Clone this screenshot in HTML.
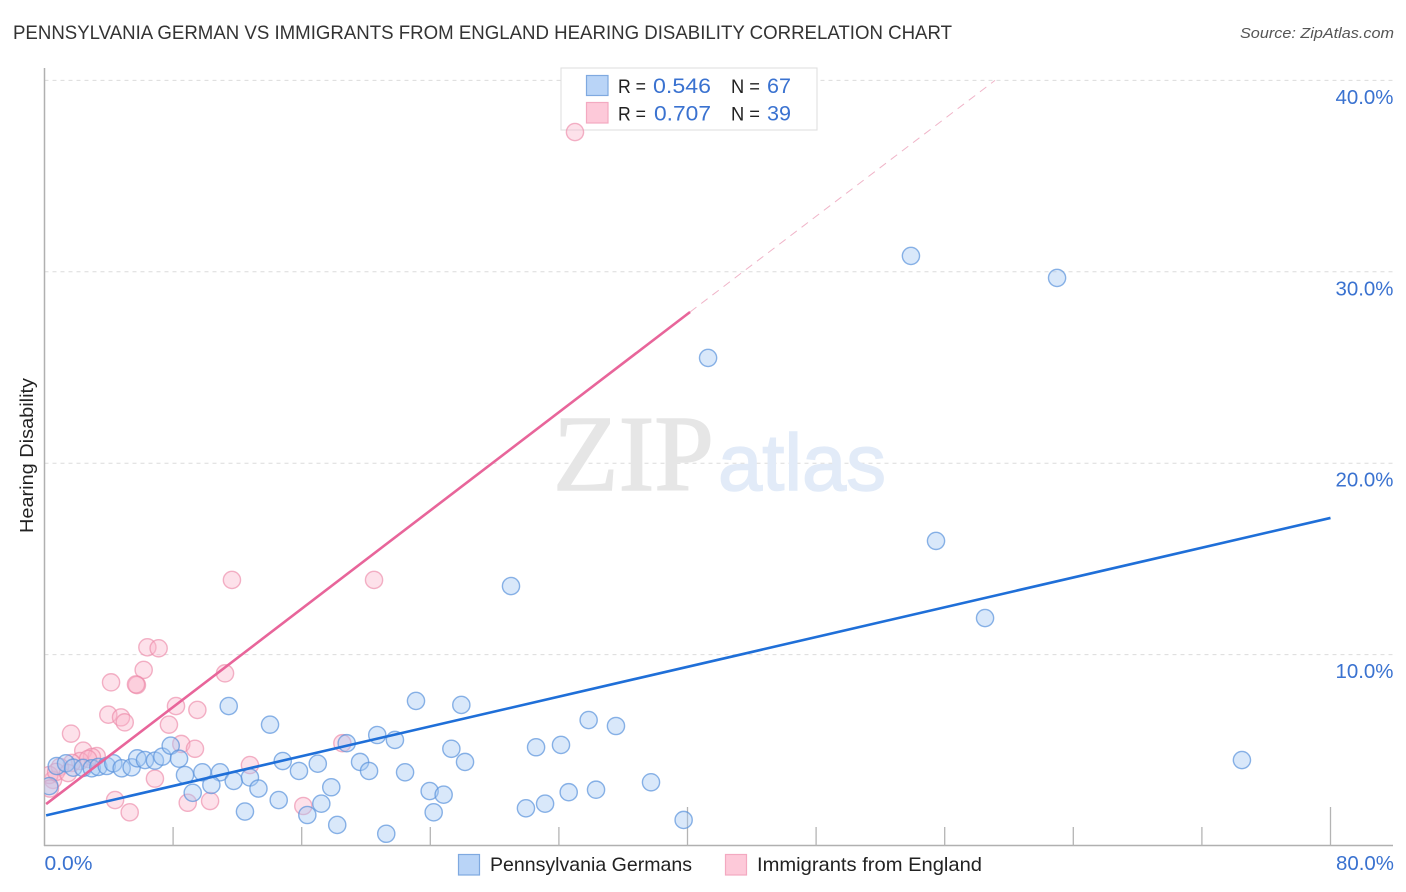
<!DOCTYPE html>
<html lang="en">
<head>
<meta charset="utf-8">
<title>Pennsylvania German vs Immigrants from England Hearing Disability Correlation Chart</title>
<style>
html,body{margin:0;padding:0;background:#fff;}
svg{display:block;font-family:"Liberation Sans",sans-serif;}
</style>
</head>
<body>
<svg id="chart" width="1406" height="892" viewBox="0 0 1406 892" xmlns="http://www.w3.org/2000/svg">
  <defs>
    <clipPath id="plot-clip"><rect x="44.5" y="60" width="1350" height="786"></rect></clipPath>
  </defs>
  <rect x="0" y="0" width="1406" height="892" fill="#ffffff"></rect>
  <text x="13" y="39" font-size="19.5" fill="#333333" textLength="939" lengthAdjust="spacingAndGlyphs">PENNSYLVANIA GERMAN VS IMMIGRANTS FROM ENGLAND HEARING DISABILITY CORRELATION CHART</text>
  <text x="1240" y="38" font-size="15" font-style="italic" fill="#555555" textLength="154" lengthAdjust="spacingAndGlyphs">Source: ZipAtlas.com</text>
  <text transform="translate(33,533) rotate(-90)" x="0" y="0" font-size="18" fill="#222222" textLength="155" lengthAdjust="spacingAndGlyphs">Hearing Disability</text>
  <g id="grid"></g>
  <text x="553" y="490" font-family="'Liberation Serif',serif" font-size="108" fill="#e6e6e6" stroke="#e6e6e6" stroke-width="1.5" textLength="161" lengthAdjust="spacingAndGlyphs">ZIP</text>
  <text x="718" y="490" font-size="80" fill="#e2ebf8" stroke="#e2ebf8" stroke-width="1.5" textLength="168" lengthAdjust="spacingAndGlyphs">atlas</text>
  <g id="axes"></g>
  <g>
    <rect x="561" y="68" width="256" height="62" fill="#ffffff" stroke="#dddddd" stroke-width="1"></rect>
    <rect x="586.5" y="75.5" width="21.5" height="20" fill="#b9d4f7" stroke="#7fa9e0" stroke-width="1.2"></rect>
    <text x="618" y="93" font-size="19.5" fill="#222222" textLength="28" lengthAdjust="spacingAndGlyphs">R =</text>
    <text x="653" y="93" font-size="21" fill="#3a72d0" textLength="58" lengthAdjust="spacingAndGlyphs">0.546</text>
    <text x="731" y="93" font-size="19.5" fill="#222222" textLength="29" lengthAdjust="spacingAndGlyphs">N =</text>
    <text x="767" y="93" font-size="21" fill="#3a72d0" textLength="24" lengthAdjust="spacingAndGlyphs">67</text>
    <rect x="586.5" y="102.5" width="21.5" height="20.5" fill="#fdc9d9" stroke="#f3a9c1" stroke-width="1.2"></rect>
    <text x="618" y="120.5" font-size="19.5" fill="#222222" textLength="28" lengthAdjust="spacingAndGlyphs">R =</text>
    <text x="654" y="120.5" font-size="21" fill="#3a72d0" textLength="57" lengthAdjust="spacingAndGlyphs">0.707</text>
    <text x="731" y="120.5" font-size="19.5" fill="#222222" textLength="29" lengthAdjust="spacingAndGlyphs">N =</text>
    <text x="767" y="120.5" font-size="21" fill="#3a72d0" textLength="24" lengthAdjust="spacingAndGlyphs">39</text>
  </g>
  <g id="points" clip-path="url(#plot-clip)"></g>
  <g id="trends" clip-path="url(#plot-clip)"></g>
  <g id="labels"></g>
  <g>
    <rect x="458.5" y="854.5" width="21" height="20.5" fill="#b9d4f7" stroke="#7fa9e0" stroke-width="1.2"></rect>
    <text x="490" y="871" font-size="19.5" fill="#222222" textLength="202" lengthAdjust="spacingAndGlyphs">Pennsylvania Germans</text>
    <rect x="725.5" y="854.5" width="21" height="20.5" fill="#fdc9d9" stroke="#f3a9c1" stroke-width="1.2"></rect>
    <text x="757" y="871" font-size="19.5" fill="#222222" textLength="225" lengthAdjust="spacingAndGlyphs">Immigrants from England</text>
  </g>
</svg>
<script>
const yTickValues = [10, 20, 30, 40];
const yTickLabels = ["10.0%", "20.0%", "30.0%", "40.0%"];
const xTickValues = [8, 16, 24, 32, 40, 48, 56, 64, 72, 80];
const xMajorTicks = [40, 80];
const xLabelValues = [0, 80];
const xLabelTexts = ["0.0%", "80.0%"];

const blueX = [0.76,1.34,1.79,2.40,2.94,3.35,3.87,4.28,4.80,5.42,5.77,6.25,6.87,7.33,7.85,8.37,8.74,9.82,10.92,9.22,10.38,11.77,12.78,13.31,12.47,11.46,0.30,14.03,23.11,25.93,20.70,21.80,18.80,14.82,17.00,15.83,19.63,20.19,22.43,25.31,26.16,14.57,17.84,17.22,16.35,18.21,21.26,23.96,24.83,24.21,33.85,35.55,30.58,32.13,37.73,32.61,34.31,31.14,29.95,39.76,29.02,41.28,53.90,62.99,55.46,58.51,74.49];
const blueY = [4.18,4.32,4.09,4.08,4.06,4.13,4.18,4.32,4.06,4.11,4.58,4.49,4.46,4.67,5.24,4.56,3.71,3.85,3.85,2.78,3.19,3.40,3.58,3.00,1.80,7.31,3.13,6.34,7.58,7.37,5.80,5.54,5.37,4.44,4.30,3.92,4.39,3.92,3.85,5.08,4.39,2.40,3.07,2.21,1.62,1.10,0.64,2.87,2.68,1.76,6.58,6.27,5.16,5.28,3.33,2.81,2.94,2.21,1.97,1.36,13.58,25.50,30.83,29.68,15.94,11.91,4.49];

const pinkX = [33.00,20.50,11.66,6.40,7.10,6.17,4.14,5.75,5.69,11.23,8.18,9.51,3.97,4.76,4.99,7.74,1.65,8.51,9.36,2.41,6.87,4.39,5.30,8.91,10.30,12.78,16.10,18.53,3.25,2.95,2.21,1.71,0.96,0.53,0.30,0.72,1.46,0.34,2.71];
const pinkY = [37.30,13.90,13.90,10.38,10.33,9.20,8.55,8.41,8.44,9.02,7.31,7.11,6.86,6.72,6.46,6.34,5.87,5.33,5.08,4.98,3.52,2.40,1.76,2.26,2.35,4.23,2.09,5.37,4.70,4.65,4.44,4.34,4.13,3.45,3.71,3.87,3.81,3.00,4.55];

const blueTrendX = [0.1, 80];
const blueTrendY = [1.6, 17.14];
const pinkSolidX = [0.1, 40.16];
const pinkSolidY = [2.19, 27.9];
const pinkDashX = [40.16, 59.13];
const pinkDashY = [27.9, 40.0];

const SVG_NS = "http://www.w3.org/2000/svg";
function xScale(v) { return 44.5 + v * 16.075; }
function yScale(v) { return 846 - v * 19.14; }
function make(tag, parent, attrs) {
  const el = document.createElementNS(SVG_NS, tag);
  for (const k in attrs) el.setAttribute(k, attrs[k]);
  parent.appendChild(el);
  return el;
}

const grid = document.getElementById("grid");
const axes = document.getElementById("axes");
const labels = document.getElementById("labels");
const points = document.getElementById("points");
const trends = document.getElementById("trends");

yTickValues.forEach(function (v, i) {
  const line = make("line", grid, {x1: 44.5, x2: 1393, y1: yScale(v), y2: yScale(v), stroke: "#dcdcdc", "stroke-width": 1, "stroke-dasharray": "4 4"});
  
  
  const t = make("text", labels, {x: 1393.5, y: yScale(v) + 23.5, "text-anchor": "end", "font-size": 20, fill: "#3a72d0", textLength: 58, lengthAdjust: "spacingAndGlyphs"});
  
  
  t.textContent = yTickLabels[i];
});

const yAxis = make("line", axes, {x1: 44.5, x2: 44.5, y1: 68, y2: 846, stroke: "#b0b0b0", "stroke-width": 1.5});


const xAxis = make("line", axes, {x1: 44, x2: 1393, y1: 845.5, y2: 845.5, stroke: "#b0b0b0", "stroke-width": 1.5});



xTickValues.forEach(function (v) {
  const top = xMajorTicks.indexOf(v) >= 0 ? 807 : 827;
  const tick = make("line", axes, {x1: xScale(v), x2: xScale(v), y1: top, y2: 846, stroke: "#b4b4b4", "stroke-width": 1.3});
  
  
});

xLabelValues.forEach(function (v, i) {
  const isLast = i === xLabelValues.length - 1;
  const t = make("text", labels, {x: isLast ? 1336 : xScale(v), y: 870, "font-size": 20, fill: "#3a72d0", textLength: isLast ? 58 : 48, lengthAdjust: "spacingAndGlyphs"});
  
  
  t.textContent = xLabelTexts[i];
});

pinkX.forEach(function (v, i) {
  const c = make("circle", points, {cx: xScale(v), cy: yScale(pinkY[i]), r: 8.6, fill: "#f9b4ca", "fill-opacity": 0.4, stroke: "#ec8aa9", "stroke-opacity": 0.65, "stroke-width": 1.4});
  
  
});
blueX.forEach(function (v, i) {
  const c = make("circle", points, {cx: xScale(v), cy: yScale(blueY[i]), r: 8.6, fill: "#a4c7f4", "fill-opacity": 0.42, stroke: "#5a93dc", "stroke-opacity": 0.7, "stroke-width": 1.4});
  
  
});

const pinkDash = make("line", trends, {x1: xScale(pinkDashX[0]), y1: yScale(pinkDashY[0]), x2: xScale(pinkDashX[1]), y2: yScale(pinkDashY[1]), stroke: "#f0b4c8", "stroke-width": 1, "stroke-dasharray": "8 6"});


const pinkLine = make("line", trends, {x1: xScale(pinkSolidX[0]), y1: yScale(pinkSolidY[0]), x2: xScale(pinkSolidX[1]), y2: yScale(pinkSolidY[1]), stroke: "#e8659a", "stroke-width": 2.6});


const blueLine = make("line", trends, {x1: xScale(blueTrendX[0]), y1: yScale(blueTrendY[0]), x2: xScale(blueTrendX[1]), y2: yScale(blueTrendY[1]), stroke: "#1f6fd8", "stroke-width": 2.6});


</script>
</body>
</html>
